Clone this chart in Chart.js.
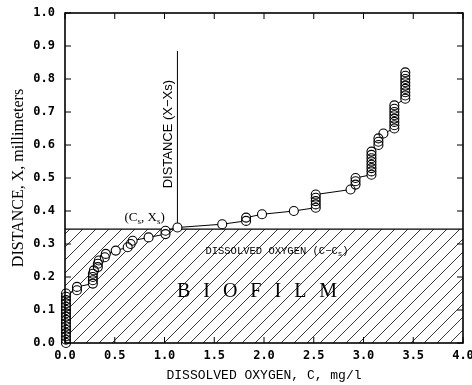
<!DOCTYPE html>
<html>
<head>
<meta charset="utf-8">
<script src="https://cdn.jsdelivr.net/npm/chart.js@4.4.0/dist/chart.umd.min.js"></script>
<style>
html, body { margin: 0; padding: 0; background: #fff; }
</style>
</head>
<body>
<canvas id="oxChart" width="472" height="385"></canvas>
<script>
// measured profile: dissolved oxygen (mg/l) vs distance (mm)
const oxygen = [
  0.01, 0.01, 0.01, 0.01, 0.01, 0.01, 0.01, 0.01, 0.01, 0.01, 0.01, 0.01, 0.01, 0.01, 0.01, 0.01,
  0.12, 0.12,
  0.28, 0.28, 0.28, 0.28, 0.29,
  0.33, 0.33, 0.34,
  0.40, 0.41,
  0.51,
  0.63, 0.66, 0.68,
  0.84,
  1.01, 1.01,
  1.13,
  1.58,
  1.82, 1.82,
  1.98,
  2.30,
  2.52, 2.52, 2.52, 2.52, 2.52,
  2.87,
  2.92, 2.92, 2.92,
  3.08, 3.08, 3.08, 3.08, 3.08, 3.08, 3.08, 3.08,
  3.15, 3.15, 3.15,
  3.20,
  3.31, 3.31, 3.31, 3.31, 3.31, 3.31, 3.31, 3.31,
  3.42, 3.42, 3.42, 3.42, 3.42, 3.42, 3.42, 3.42, 3.42
];
const distance = [
  0.00, 0.01, 0.02, 0.03, 0.04, 0.05, 0.06, 0.07, 0.08, 0.09, 0.10, 0.11, 0.12, 0.13, 0.14, 0.15,
  0.16, 0.17,
  0.18, 0.19, 0.20, 0.21, 0.22,
  0.23, 0.24, 0.25,
  0.26, 0.27,
  0.28,
  0.29, 0.30, 0.31,
  0.32,
  0.33, 0.34,
  0.35,
  0.36,
  0.37, 0.38,
  0.39,
  0.40,
  0.41, 0.42, 0.43, 0.44, 0.45,
  0.465,
  0.48, 0.49, 0.50,
  0.51, 0.52, 0.53, 0.54, 0.55, 0.56, 0.57, 0.58,
  0.60, 0.61, 0.62,
  0.635,
  0.65, 0.66, 0.67, 0.68, 0.69, 0.70, 0.71, 0.72,
  0.74, 0.75, 0.76, 0.77, 0.78, 0.79, 0.80, 0.81, 0.82
];
const xTickValues = [0, 0.5, 1.0, 1.5, 2.0, 2.5, 3.0, 3.5, 4.0];
const yTickValues = [0, 0.1, 0.2, 0.3, 0.4, 0.5, 0.6, 0.7, 0.8, 0.9, 1.0];

const biofilmTop = 0.345;      // surface of biofilm
const surfacePoint = [1.13, 0.35]; // (Cs, Xs)
const guideTop = 0.885;

const points = oxygen.map((c, i) => ({ x: c, y: distance[i] }));

function makeHatch() {
  const s = 13;
  const c = document.createElement('canvas');
  c.width = s; c.height = s;
  const g = c.getContext('2d');
  g.strokeStyle = '#222';
  g.lineWidth = 0.9;
  g.beginPath();
  g.moveTo(-1, s + 1); g.lineTo(s + 1, -1);
  g.moveTo(-s / 2 - 1, s / 2 + 1); g.lineTo(s / 2 + 1, -s / 2 - 1);
  g.moveTo(s / 2 - 1, s * 1.5 + 1); g.lineTo(s * 1.5 + 1, s / 2 - 1);
  g.stroke();
  return g.createPattern(c, 'repeat');
}

function drawRuns(ctx, runs, x, y, size, family) {
  let w = 0;
  runs.forEach(r => {
    ctx.font = (r.sub ? size * 0.7 : size) + 'px ' + family;
    w += ctx.measureText(r.t).width;
  });
  let cx = x - w / 2;
  runs.forEach(r => {
    ctx.font = (r.sub ? size * 0.7 : size) + 'px ' + family;
    ctx.fillText(r.t, cx, r.sub ? y + size * 0.3 : y);
    cx += ctx.measureText(r.t).width;
  });
}

const frameAndNotes = {
  id: 'frameAndNotes',
  afterDraw(chart) {
    const { ctx, chartArea: a, scales: { x, y } } = chart;
    ctx.save();
    ctx.strokeStyle = '#000';
    ctx.lineWidth = 1.6;
    ctx.strokeRect(a.left, a.top, a.right - a.left, a.bottom - a.top);

    // inward tick marks on all four sides
    ctx.lineWidth = 1;
    ctx.beginPath();
    xTickValues.forEach(v => {
      const px = x.getPixelForValue(v);
      ctx.moveTo(px, a.bottom); ctx.lineTo(px, a.bottom - 6);
      ctx.moveTo(px, a.top); ctx.lineTo(px, a.top + 6);
    });
    yTickValues.forEach(v => {
      const py = y.getPixelForValue(v);
      ctx.moveTo(a.left, py); ctx.lineTo(a.left + 6, py);
      ctx.moveTo(a.right, py); ctx.lineTo(a.right - 6, py);
    });
    ctx.stroke();

    ctx.fillStyle = '#000';
    ctx.textBaseline = 'middle';
    ctx.textAlign = 'left';

    // (Cs, Xs)
    drawRuns(ctx, [{ t: '(C' }, { t: 's', sub: true }, { t: ', X' }, { t: 's', sub: true }, { t: ')' }],
      x.getPixelForValue(0.80), y.getPixelForValue(0.38), 13, '"Liberation Serif"');

    // DISSOLVED OXYGEN (C-Cs)
    drawRuns(ctx, [{ t: 'DISSOLVED OXYGEN (C\u2212C' }, { t: 's', sub: true }, { t: ')' }],
      x.getPixelForValue(2.13), y.getPixelForValue(0.279), 10.5, '"Liberation Mono"');

    // B I O F I L M
    ctx.font = '20px "Liberation Serif"';
    ctx.textAlign = 'center';
    ctx.letterSpacing = '4px';
    ctx.fillText('B I O F I L M', x.getPixelForValue(1.95), y.getPixelForValue(0.155));
    ctx.letterSpacing = '0px';

    // DISTANCE (X-Xs), vertical
    ctx.translate(x.getPixelForValue(1.035), y.getPixelForValue(0.633));
    ctx.rotate(-Math.PI / 2);
    ctx.font = '13px "Liberation Sans"';
    ctx.fillText('DISTANCE (X\u2212Xs)', 0, 0);
    ctx.restore();
  }
};

const ctx = document.getElementById('oxChart').getContext('2d');
const tickFont = { family: '"DejaVu Sans Mono"', size: 12, weight: 'bold' };

const oxChart = new Chart(ctx, {
  type: 'scatter',
  data: {
    datasets: [
      {
        // open circles
        data: points,
        showLine: false,
        pointRadius: 4.5,
        pointBorderWidth: 1.1,
        pointBorderColor: '#000',
        pointBackgroundColor: 'rgba(0,0,0,0)',
        clip: false,
        order: 1
      },
      {
        // white discs so the connecting line stops at the circle edge
        data: points,
        showLine: false,
        pointRadius: 4.5,
        pointBorderWidth: 0,
        pointBorderColor: '#fff',
        pointBackgroundColor: '#fff',
        clip: false,
        order: 2
      },
      {
        data: points,
        showLine: true,
        borderColor: '#000',
        borderWidth: 1,
        pointRadius: 0,
        fill: false,
        order: 3
      },
      {
        data: [{ x: surfacePoint[0], y: surfacePoint[1] + 0.014 }, { x: surfacePoint[0], y: guideTop }],
        showLine: true,
        borderColor: '#000',
        borderWidth: 1,
        pointRadius: 0,
        fill: false,
        order: 4
      },
      {
        data: [{ x: 0, y: biofilmTop }, { x: 4, y: biofilmTop }],
        showLine: true,
        borderColor: '#000',
        borderWidth: 1.2,
        backgroundColor: makeHatch(),
        pointRadius: 0,
        fill: 'origin',
        order: 5
      }
    ]
  },
  options: {
    responsive: false,
    animation: false,
    layout: { padding: { left: 0, top: 13, right: 9, bottom: 0 } },
    plugins: { legend: { display: false }, tooltip: { enabled: false } },
    scales: {
      x: {
        type: 'linear',
        min: 0,
        max: 4,
        grid: { display: false, drawTicks: false },
        border: { display: false },
        afterBuildTicks: s => { s.ticks = xTickValues.map(v => ({ value: v })); },
        afterFit: s => { s.height = 42; s.paddingRight = 0; s.paddingLeft = 0; },
        ticks: {
          color: '#000',
          font: tickFont,
          padding: 6,
          maxRotation: 0,
          autoSkip: false,
          callback: v => v.toFixed(1)
        },
        title: {
          display: true,
          text: 'DISSOLVED OXYGEN, C, mg/l',
          color: '#000',
          font: { family: '"Liberation Mono"', size: 13 },
          padding: { top: 2, bottom: 2 }
        }
      },
      y: {
        min: 0,
        max: 1,
        grid: { display: false, drawTicks: false },
        border: { display: false },
        afterBuildTicks: s => { s.ticks = yTickValues.map(v => ({ value: v })); },
        afterFit: s => { s.width = 65; s.paddingTop = 0; s.paddingBottom = 0; },
        ticks: {
          color: '#000',
          font: tickFont,
          padding: 10,
          autoSkip: false,
          callback: v => v.toFixed(1)
        },
        title: {
          display: true,
          text: 'DISTANCE, X, millimeters',
          color: '#000',
          font: { family: '"Liberation Serif"', size: 16 },
          padding: { top: 9, bottom: 9 }
        }
      }
    }
  },
  plugins: [frameAndNotes]
});
</script>
</body>
</html>
